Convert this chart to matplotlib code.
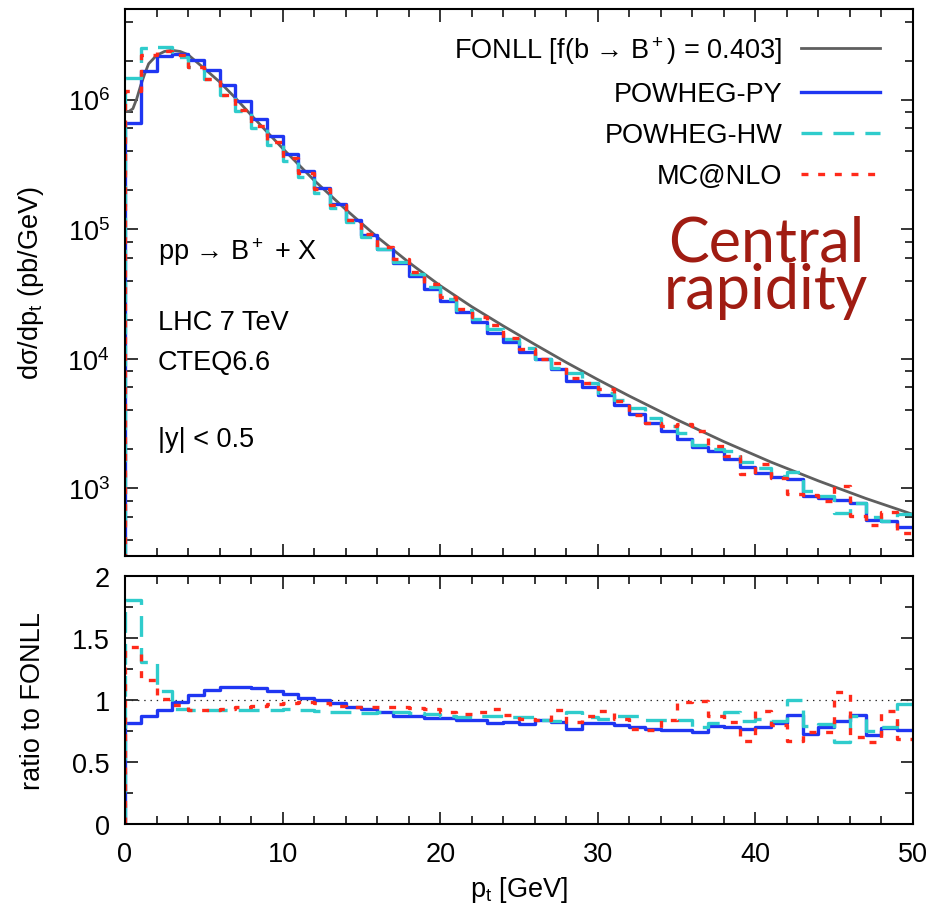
import numpy as np
import matplotlib.pyplot as plt
from matplotlib.ticker import LogLocator, MultipleLocator, NullFormatter, FuncFormatter

plt.rcParams['font.family'] = ['Liberation Sans', 'DejaVu Sans']
plt.rcParams['mathtext.fontset'] = 'custom'
plt.rcParams['mathtext.rm'] = 'Liberation Sans'
plt.rcParams['mathtext.it'] = 'Liberation Sans:italic'
plt.rcParams['lines.scale_dashes'] = False

# 1 GeV bins from 0 to 50 GeV
bin_edges = list(range(0, 51))

# FONLL curve (pb/GeV)
fonll_pt = [0, 0.25, 0.5, 0.75, 1, 1.25, 1.5, 2, 2.5, 3, 3.5, 4, 5, 6, 7, 8, 9, 10,
            12, 14, 16, 18, 20, 22, 24, 26, 28, 30, 32, 35, 38, 41, 44, 47, 50]
fonll_val = [8.1e5, 8.1e5, 8.5e5, 1.02e6, 1.29e6, 1.58e6, 1.89e6, 2.19e6, 2.35e6, 2.4e6,
             2.35e6, 2.22e6, 1.75e6, 1.37e6, 1.03e6, 7.6e5, 5.65e5, 4.2e5,
             2.38e5, 1.42e5, 8.7e4, 5.55e4, 3.66e4, 2.52e4, 1.79e4, 1.29e4, 9.36e3,
             6.9e3, 5.15e3, 3.39e3, 2.29e3, 1.59e3, 1.14e3, 835, 628]

# FONLL averaged in each bin
fonll_bin = [8.1e5, 1.9e6, 2.35e6, 2.28e6, 1.95e6, 1.55e6, 1.18e6, 8.8e5, 6.5e5, 4.85e5,
             3.65e5, 2.75e5, 2.1e5, 1.61e5, 1.25e5, 9.8e4, 7.76e4, 6.21e4, 5.01e4, 4.07e4,
             3.3e4, 2.74e4, 2.31e4, 1.95e4, 1.64e4, 1.40e4, 1.19e4, 1.01e4, 8670, 7440,
             6400, 5530, 4790, 4160, 3630, 3170, 2780, 2440, 2150, 1910,
             1690, 1500, 1340, 1200, 1080, 972, 878, 795, 722, 658]

# ratio to FONLL per bin
ratio_py = [0.815, 0.868, 0.919, 0.98, 1.04, 1.083, 1.107, 1.102, 1.097, 1.075,
            1.048, 1.02, 0.997, 0.975, 0.945, 0.925, 0.90, 0.875, 0.875, 0.852,
            0.852, 0.835, 0.838, 0.812, 0.825, 0.805, 0.84, 0.825, 0.77, 0.815,
            0.815, 0.798, 0.78, 0.77, 0.76, 0.76, 0.745, 0.79, 0.78, 0.765,
            0.78, 0.814, 0.879, 0.726, 0.78, 0.833, 0.879, 0.72, 0.771, 0.758]
ratio_hw = [1.81, 1.31, 1.075, 0.93, 0.922, 0.922, 0.922, 0.922, 0.922, 0.922,
            0.925, 0.922, 0.912, 0.905, 0.90, 0.895, 0.90, 0.90, 0.895, 0.885,
            0.875, 0.86, 0.87, 0.875, 0.86, 0.86, 0.835, 0.833, 0.9, 0.865,
            0.845, 0.874, 0.868, 0.84, 0.84, 0.84, 0.78, 0.817, 0.905, 0.833,
            0.847, 0.83, 1.0, 0.79, 0.806, 0.66, 0.87, 0.75, 0.78, 0.965]
ratio_mc = [1.43, 1.165, 1.01, 0.96, 0.922, 0.922, 0.925, 0.94, 0.955, 0.965,
            0.972, 0.98, 0.975, 0.95, 0.94, 0.94, 0.945, 0.945, 0.935, 0.93,
            0.9, 0.89, 0.905, 0.925, 0.88, 0.845, 0.84, 0.92, 0.82, 0.874,
            0.914, 0.845, 0.77, 0.76, 0.84, 0.98, 0.995, 0.874, 0.82, 0.672,
            0.914, 0.80, 0.672, 0.74, 0.74, 1.062, 0.699, 0.66, 0.914, 0.685]

labels = ['FONLL [f(b → B$^+$) = 0.403]', 'POWHEG-PY', 'POWHEG-HW', 'MC@NLO']

c_fonll = '#5f5f5f'
c_py = '#1f36f2'
c_hw = '#2fcccc'
c_mc = '#ff2a1a'

fs = 19.5


def hist(ax, vals, low, **kw):
    x = [bin_edges[0]] + bin_edges
    y = [low] + list(vals) + [vals[-1]]
    return ax.step(x, y, where='post', **kw)


fig = plt.figure(figsize=(9.33, 9.12), dpi=100)
ax1 = fig.add_axes([125 / 933, 1 - 557 / 912, 788 / 933, 547 / 912])
ax2 = fig.add_axes([125 / 933, 1 - 825 / 912, 788 / 933, 248 / 912])

fb = np.array(fonll_bin)
sty_py = dict(color=c_py, lw=2.4, ls='-')
sty_hw = dict(color=c_hw, lw=2.4, ls=(0, (15, 8)))
sty_mc = dict(color=c_mc, lw=2.4, ls=(0, (5, 7)))

ax1.plot(fonll_pt, fonll_val, color=c_fonll, lw=2.0, label=labels[0])
hist(ax1, fb * np.array(ratio_py), 1, label=labels[1], **sty_py)
hist(ax1, fb * np.array(ratio_hw), 1, label=labels[2], **sty_hw)
hist(ax1, fb * np.array(ratio_mc), 1, label=labels[3], **sty_mc)

ax2.axhline(1, color='#222222', lw=0.9, ls=(0, (1, 3.5)))
hist(ax2, ratio_py, 0, **sty_py)
hist(ax2, ratio_hw, 0, **sty_hw)
hist(ax2, ratio_mc, 0, **sty_mc)

for ax in (ax1, ax2):
    ax.set_xlim(0, 50)
    ax.xaxis.set_major_locator(MultipleLocator(10))
    ax.xaxis.set_minor_locator(MultipleLocator(2))
    ax.tick_params(which='both', direction='in', top=True, right=True,
                   labelsize=fs, width=1.1, pad=11)
    ax.tick_params(axis='x', which='both', pad=12)
    ax.tick_params(which='major', length=9)
    ax.tick_params(which='minor', length=5.5)
    for s in ax.spines.values():
        s.set_linewidth(1.5)

ax1.set_yscale('log')
ax1.set_ylim(300, 5e6)
ax1.yaxis.set_major_locator(LogLocator(base=10, numticks=10))
ax1.yaxis.set_minor_locator(LogLocator(base=10, subs=(2, 4, 6, 8), numticks=20))
ax1.yaxis.set_minor_formatter(NullFormatter())
ax1.tick_params(labelbottom=False)

ax2.set_ylim(0, 2)
ax2.yaxis.set_major_locator(MultipleLocator(0.5))
ax2.yaxis.set_minor_locator(MultipleLocator(0.25))
ax2.yaxis.set_major_formatter(FuncFormatter(lambda v, p: '%g' % v))

ax1.set_ylabel('dσ/dp$_\\mathrm{t}$ (pb/GeV)', fontsize=fs)
ax2.set_ylabel('ratio to FONLL', fontsize=fs)
ax1.yaxis.set_label_coords(-0.100, 0.5)
ax2.yaxis.set_label_coords(-0.100, 0.5)
ax2.set_xlabel('p$_\\mathrm{t}$ [GeV]', fontsize=fs, labelpad=5)

ax1.text(0.042, 0.558, 'pp → B$^+$ + X', transform=ax1.transAxes, fontsize=fs, va='center')
ax1.text(0.042, 0.428, 'LHC 7 TeV', transform=ax1.transAxes, fontsize=fs, va='center')
ax1.text(0.042, 0.355, 'CTEQ6.6', transform=ax1.transAxes, fontsize=fs, va='center')
ax1.text(0.042, 0.214, '|y| < 0.5', transform=ax1.transAxes, fontsize=fs, va='center')

ax1.legend(loc='upper right', bbox_to_anchor=(0.958, 0.954), frameon=False,
           markerfirst=False, fontsize=fs, handlelength=2.9, handletextpad=0.7,
           labelspacing=0.56, borderpad=0, borderaxespad=0)

fig.text(766 / 933, 1 - 268 / 912, 'Central\nrapidity', color='#a01c12', fontsize=44,
         family='Lato', ha='center', va='center', multialignment='center',
         linespacing=0.8)

fig.savefig('out.png', dpi=100)
